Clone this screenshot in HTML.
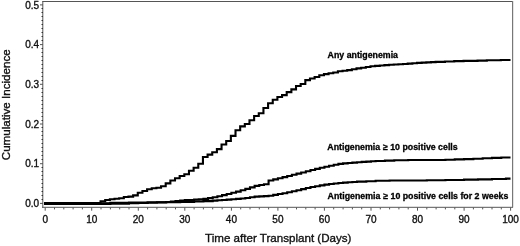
<!DOCTYPE html>
<html><head><meta charset="utf-8"><style>
html,body{margin:0;padding:0;background:#fff;width:520px;height:246px;overflow:hidden}
svg{display:block}
.t{font-family:"Liberation Sans",sans-serif;font-size:10px;fill:#111;stroke:#111;stroke-width:0.35px}
.l{font-family:"Liberation Sans",sans-serif;font-size:8.8px;font-weight:bold;fill:#000;stroke:#000;stroke-width:0.3px}
.ti{font-family:"Liberation Sans",sans-serif;font-size:11.6px;fill:#111;stroke:#111;stroke-width:0.35px}
</style></head><body>
<svg width="520" height="246" viewBox="0 0 520 246">
<path d="M42.5,1.5 H512.5 M42.8,1 V207.5 M42,207.3 H513" fill="none" stroke="#555" stroke-width="1"/>
<path d="M512.6,1 V207.5" fill="none" stroke="#777" stroke-width="1.2"/>
<path d="M40,203.40H43M40,163.70H43M40,124.00H43M40,84.30H43M40,44.60H43M40,4.90H43" stroke="#555" stroke-width="1"/>
<path d="M41.5,199.5H43M41.5,195.5H43M41.5,191.5H43M41.5,187.5H43M41.5,183.5H43M41.5,179.5H43M41.5,175.5H43M41.5,171.5H43M41.5,167.5H43M41.5,159.5H43M41.5,155.5H43M41.5,151.5H43M41.5,147.5H43M41.5,143.5H43M41.5,139.5H43M41.5,135.5H43M41.5,131.5H43M41.5,127.5H43M41.5,120.5H43M41.5,116.5H43M41.5,112.5H43M41.5,108.5H43M41.5,104.5H43M41.5,100.5H43M41.5,96.5H43M41.5,92.5H43M41.5,88.5H43M41.5,80.5H43M41.5,76.5H43M41.5,72.5H43M41.5,68.5H43M41.5,64.5H43M41.5,60.5H43M41.5,56.5H43M41.5,52.5H43M41.5,48.5H43M41.5,40.5H43M41.5,36.5H43M41.5,32.5H43M41.5,28.5H43M41.5,24.5H43M41.5,20.5H43M41.5,16.5H43M41.5,12.5H43M41.5,8.5H43" stroke="#333" stroke-width="1"/>
<path d="M45.2,207.5V210.7M54.5,207.5V209.4M63.8,207.5V209.4M73.1,207.5V209.4M82.4,207.5V209.4M91.7,207.5V210.7M101.0,207.5V209.4M110.4,207.5V209.4M119.7,207.5V209.4M129.0,207.5V209.4M138.3,207.5V210.7M147.6,207.5V209.4M156.9,207.5V209.4M166.2,207.5V209.4M175.5,207.5V209.4M184.8,207.5V210.7M194.1,207.5V209.4M203.4,207.5V209.4M212.7,207.5V209.4M222.1,207.5V209.4M231.4,207.5V210.7M240.7,207.5V209.4M250.0,207.5V209.4M259.3,207.5V209.4M268.6,207.5V209.4M277.9,207.5V210.7M287.2,207.5V209.4M296.5,207.5V209.4M305.8,207.5V209.4M315.1,207.5V209.4M324.4,207.5V210.7M333.7,207.5V209.4M343.1,207.5V209.4M352.4,207.5V209.4M361.7,207.5V209.4M371.0,207.5V210.7M380.3,207.5V209.4M389.6,207.5V209.4M398.9,207.5V209.4M408.2,207.5V209.4M417.5,207.5V210.7M426.8,207.5V209.4M436.1,207.5V209.4M445.4,207.5V209.4M454.8,207.5V209.4M464.1,207.5V210.7M473.4,207.5V209.4M482.7,207.5V209.4M492.0,207.5V209.4M501.3,207.5V209.4M510.6,207.5V210.7" stroke="#555" stroke-width="1"/>
<text x="39.2" y="207.0" text-anchor="end" class="t">0.0</text>
<text x="39.2" y="167.3" text-anchor="end" class="t">0.1</text>
<text x="39.2" y="127.6" text-anchor="end" class="t">0.2</text>
<text x="39.2" y="87.9" text-anchor="end" class="t">0.3</text>
<text x="39.2" y="48.2" text-anchor="end" class="t">0.4</text>
<text x="39.2" y="8.5" text-anchor="end" class="t">0.5</text>
<text x="45.2" y="223.2" text-anchor="middle" class="t">0</text>
<text x="91.7" y="223.2" text-anchor="middle" class="t">10</text>
<text x="138.3" y="223.2" text-anchor="middle" class="t">20</text>
<text x="184.8" y="223.2" text-anchor="middle" class="t">30</text>
<text x="231.4" y="223.2" text-anchor="middle" class="t">40</text>
<text x="277.9" y="223.2" text-anchor="middle" class="t">50</text>
<text x="324.4" y="223.2" text-anchor="middle" class="t">60</text>
<text x="371.0" y="223.2" text-anchor="middle" class="t">70</text>
<text x="417.5" y="223.2" text-anchor="middle" class="t">80</text>
<text x="464.1" y="223.2" text-anchor="middle" class="t">90</text>
<text x="510.6" y="223.2" text-anchor="middle" class="t">100</text>
<path d="M44.00,203.90H110.36V203.59H128.97V203.26H138.28V202.98H147.59V202.70H156.90V202.42H166.20V202.14H180.17V201.85H194.13V201.51H203.44V201.17H212.74V200.64H217.40V200.31H222.05V199.97H226.71V199.61H231.36V199.22H236.01V198.83H240.67V198.44H245.32V198.00H249.98V197.31H254.63V196.67H259.28V196.42H263.94V196.16H268.59V195.70H273.25V194.88H277.90V194.06H282.55V193.20H287.21V192.26H291.86V191.31H296.52V190.32H301.17V189.16H305.82V188.01H310.48V186.99H315.13V186.18H319.79V185.38H324.44V184.58H329.09V184.05H333.75V183.53H338.40V183.00H343.06V182.63H347.71V182.30H352.36V181.96H357.02V181.63H366.33V181.21H375.63V180.81H389.60V180.55H426.83V180.27H445.44V179.98H464.06V179.67H478.02V179.33H491.98V178.99H505.95V178.65H510.50" fill="none" stroke="#000" stroke-width="2.1" stroke-linejoin="miter"/>
<path d="M44.00,203.20H110.36V202.89H128.97V202.58H147.59V202.25H166.20V201.93H170.86V201.56H175.51V201.07H180.17V200.58H184.82V200.09H194.13V199.65H198.78V199.38H203.44V198.85H208.09V198.15H212.74V197.27H217.40V196.20H222.05V195.08H226.71V193.94H231.36V192.78H236.01V191.59H240.67V190.25H245.32V188.89H249.98V187.35H254.63V185.90H259.28V185.06H263.94V184.22H268.59V180.51H273.25V179.38H277.90V178.24H282.55V177.10H287.21V175.96H291.86V174.79H296.52V173.61H301.17V172.43H305.82V171.25H310.48V170.07H315.13V168.88H319.79V167.70H324.44V166.70H329.09V165.76H333.75V164.82H338.40V163.88H343.06V163.39H347.71V163.00H352.36V162.62H357.02V162.24H361.67V161.92H366.33V161.62H370.98V161.31H375.63V161.01H384.94V160.62H394.25V160.27H408.21V159.99H445.44V159.68H454.75V159.42H464.06V159.14H473.37V158.73H482.68V158.32H491.98V157.89H501.29V157.44H510.50" fill="none" stroke="#000" stroke-width="2.1" stroke-linejoin="miter"/>
<path d="M44.00,203.10H100.55V201.20H105.20V200.00H109.86V199.20H114.51V198.70H119.16V198.20H123.82V197.00H128.47V196.60H133.13V195.40H137.78V192.70H142.43V191.00H147.09V189.20H151.74V188.30H156.40V187.80H161.05V186.20H165.70V183.40H170.36V180.50H175.01V178.20H179.67V176.00H184.32V174.30H188.97V170.80H193.63V167.70H198.28V163.80H202.94V157.00H207.59V154.60H212.24V152.20H216.90V149.10H221.55V144.50H226.21V141.00H230.86V135.90H235.51V130.30H240.17V126.40H244.82V124.00H249.48V120.20H254.13V116.00H258.78V113.30H263.44V108.00H268.09V103.30H272.75V99.70H277.40V96.95H282.05V95.15H286.71V92.15H291.36V89.40H296.02V86.00H300.67V84.00H305.32V80.10H309.98V78.50H314.63V77.00H319.29V75.20H323.94V74.10H328.59V73.30H333.25V72.50H337.90V71.30H342.56V70.70H347.21V70.10H351.86V69.20H356.52V68.40H361.17V67.72H365.83V66.97H370.48V66.22H375.13V65.86H379.79V65.50H384.44V65.15H389.10V64.80H393.75V64.49H398.40V64.22H403.06V63.94H407.71V63.59H412.37V63.25H417.02V62.91H421.67V62.65H426.33V62.40H430.98V62.14H435.64V61.89H444.94V61.48H454.25V61.15H463.56V60.88H477.52V60.59H486.83V60.31H500.79V60.04H510.50" fill="none" stroke="#000" stroke-width="2.1" stroke-linejoin="miter"/>
<text x="327.6" y="57.5" class="l">Any antigenemia</text>
<text x="327.3" y="149.5" class="l">Antigenemia <tspan dx="0.4">≥</tspan> 10 positive cells</text>
<text x="327.6" y="198.5" class="l">Antigenemia <tspan dx="0.4">≥</tspan> 10 positive cells for 2 weeks</text>
<text x="205" y="242.4" class="ti">Time after Transplant (Days)</text>
<text transform="translate(10.2,160.2) rotate(-90)" class="ti">Cumulative Incidence</text>
</svg>
</body></html>
